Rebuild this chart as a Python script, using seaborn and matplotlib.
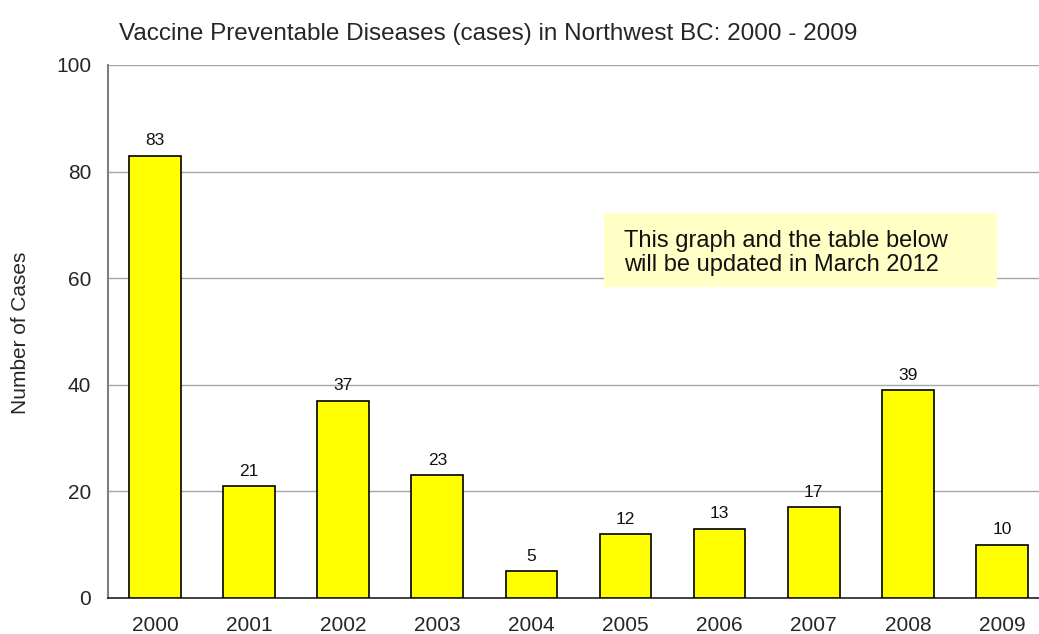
import matplotlib.pyplot as plt
import matplotlib.patches as mpatches
import pandas as pd
import seaborn as sns

years = ['2000', '2001', '2002', '2003', '2004', '2005', '2006', '2007', '2008', '2009']
cases = [83, 21, 37, 23, 5, 12, 13, 17, 39, 10]

df = pd.DataFrame({'year': years, 'cases': cases})

sns.set_style('white')
plt.rcParams['font.family'] = ['Liberation Sans', 'DejaVu Sans']

fig = plt.figure(figsize=(10.39, 6.34), dpi=100)
ax = fig.add_axes([0.1039, 0.0568, 0.9057, 0.8407])

sns.barplot(df, x='year', y='cases', ax=ax, color='#FFFF00', saturation=1,
            width=0.55, edgecolor='black', linewidth=1.2, zorder=3)

for i, v in enumerate(cases):
    ax.text(i, v + 1.4, str(v), ha='center', va='bottom', fontsize=12.5, color='#111111')

ax.set_xlim(-0.5, len(years) - 0.5)
ax.set_ylim(0, 100)
ax.set_yticks(range(0, 101, 20))
ax.yaxis.grid(True, color='#a6a6a6', linewidth=1)
ax.set_axisbelow(True)

# x ticks sit on the category boundaries
ax.set_xticks(range(len(years)))
ax.set_xticklabels(years)
ax.set_xticks([i + 0.5 for i in range(-1, len(years))], minor=True)
ax.tick_params(axis='x', which='major', length=0, pad=13, labelsize=15)
ax.tick_params(axis='x', which='minor', length=7, width=1, color='#555555', direction='out')
ax.tick_params(axis='y', length=7, width=1, color='#555555', direction='out', labelsize=15, pad=5)

for s in ['top', 'right']:
    ax.spines[s].set_visible(False)
ax.spines['left'].set_color('#808080')
ax.spines['left'].set_linewidth(1.5)
ax.spines['bottom'].set_color('#222222')
ax.spines['bottom'].set_linewidth(1.2)

ax.set_xlabel('')
ax.set_ylabel('')
fig.text(0.0195, 0.475, 'Number of Cases', rotation=90, ha='center', va='center', fontsize=15)
fig.text(0.1145, 0.947, 'Vaccine Preventable Diseases (cases) in Northwest BC: 2000 - 2009',
         ha='left', va='center', fontsize=17.5)

# note box
ax.add_patch(mpatches.Rectangle((0.527, 0.584), 0.418, 0.138, transform=ax.transAxes,
                                facecolor='#FFFFC6', edgecolor='none', zorder=4))
ax.text(0.548, 0.647, 'This graph and the table below\nwill be updated in March 2012',
        transform=ax.transAxes, ha='left', va='center', fontsize=17,
        linespacing=1.12, color='#111111', zorder=5)

fig.savefig('out.png', dpi=100)
